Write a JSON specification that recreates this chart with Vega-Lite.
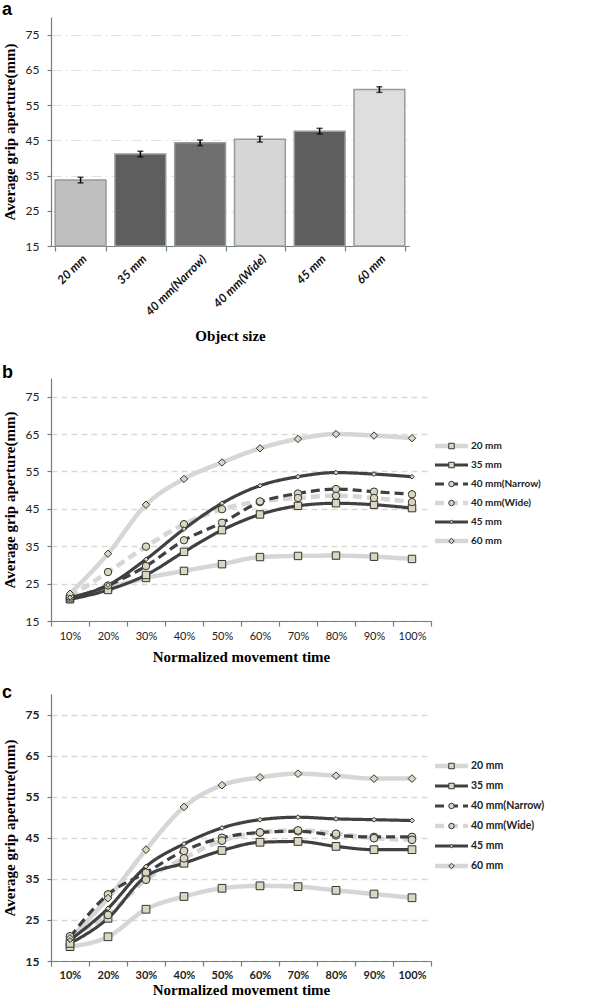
{
  "$schema": "https://vega.github.io/schema/vega-lite/v6.json",
  "background": "white",
  "padding": {"left": 2, "top": 1, "right": 0, "bottom": 0},
  "spacing": 20,
  "config": {
    "view": {"stroke": null},
    "title": {"font": "Liberation Sans", "fontSize": 18, "fontWeight": "bold", "anchor": "start", "frame": "bounds", "offset": -2, "color": "black"},
    "axis": {
      "labelFont": "Lato", "labelFontSize": 12, "labelColor": "#222",
      "titleFont": "Liberation Serif", "titleFontSize": 15, "titleFontWeight": "bold", "titleColor": "black",
      "domainColor": "#6f8080", "tickColor": "#6f8080", "domainWidth": 1.2, "tickWidth": 1.2
    }
  },
  "datasets": {
    "bars": [
      {"size": "20 mm", "value": 33.7, "err": 0.8},
      {"size": "35 mm", "value": 41.1, "err": 0.8},
      {"size": "40 mm(Narrow)", "value": 44.3, "err": 0.8},
      {"size": "40 mm(Wide)", "value": 45.3, "err": 0.8},
      {"size": "45 mm", "value": 47.6, "err": 0.8},
      {"size": "60 mm", "value": 59.4, "err": 0.8}
    ],
    "series": [
      {"s": "20 mm", "i": 1}, {"s": "35 mm", "i": 2}, {"s": "40 mm(Narrow)", "i": 3}, {"s": "40 mm(Wide)", "i": 4}, {"s": "45 mm", "i": 5}, {"s": "60 mm", "i": 6}
    ],
    "b": [
      {"s": "20 mm", "t": "10%", "v": 21.0}, {"s": "20 mm", "t": "20%", "v": 23.8}, {"s": "20 mm", "t": "30%", "v": 26.5}, {"s": "20 mm", "t": "40%", "v": 28.4}, {"s": "20 mm", "t": "50%", "v": 30.2}, {"s": "20 mm", "t": "60%", "v": 32.1}, {"s": "20 mm", "t": "70%", "v": 32.4}, {"s": "20 mm", "t": "80%", "v": 32.5}, {"s": "20 mm", "t": "90%", "v": 32.2}, {"s": "20 mm", "t": "100%", "v": 31.6},
      {"s": "35 mm", "t": "10%", "v": 20.8}, {"s": "35 mm", "t": "20%", "v": 23.3}, {"s": "35 mm", "t": "30%", "v": 27.3}, {"s": "35 mm", "t": "40%", "v": 33.5}, {"s": "35 mm", "t": "50%", "v": 39.3}, {"s": "35 mm", "t": "60%", "v": 43.5}, {"s": "35 mm", "t": "70%", "v": 45.8}, {"s": "35 mm", "t": "80%", "v": 46.5}, {"s": "35 mm", "t": "90%", "v": 46.1}, {"s": "35 mm", "t": "100%", "v": 45.2},
      {"s": "40 mm(Narrow)", "t": "10%", "v": 21.0}, {"s": "40 mm(Narrow)", "t": "20%", "v": 24.5}, {"s": "40 mm(Narrow)", "t": "30%", "v": 29.7}, {"s": "40 mm(Narrow)", "t": "40%", "v": 36.6}, {"s": "40 mm(Narrow)", "t": "50%", "v": 41.3}, {"s": "40 mm(Narrow)", "t": "60%", "v": 46.8}, {"s": "40 mm(Narrow)", "t": "70%", "v": 49.1}, {"s": "40 mm(Narrow)", "t": "80%", "v": 50.3}, {"s": "40 mm(Narrow)", "t": "90%", "v": 49.6}, {"s": "40 mm(Narrow)", "t": "100%", "v": 48.9},
      {"s": "40 mm(Wide)", "t": "10%", "v": 21.5}, {"s": "40 mm(Wide)", "t": "20%", "v": 28.1}, {"s": "40 mm(Wide)", "t": "30%", "v": 34.9}, {"s": "40 mm(Wide)", "t": "40%", "v": 40.9}, {"s": "40 mm(Wide)", "t": "50%", "v": 44.9}, {"s": "40 mm(Wide)", "t": "60%", "v": 47.0}, {"s": "40 mm(Wide)", "t": "70%", "v": 47.9}, {"s": "40 mm(Wide)", "t": "80%", "v": 48.5}, {"s": "40 mm(Wide)", "t": "90%", "v": 47.9}, {"s": "40 mm(Wide)", "t": "100%", "v": 46.8},
      {"s": "45 mm", "t": "10%", "v": 21.3}, {"s": "45 mm", "t": "20%", "v": 24.6}, {"s": "45 mm", "t": "30%", "v": 31.5}, {"s": "45 mm", "t": "40%", "v": 39.6}, {"s": "45 mm", "t": "50%", "v": 46.5}, {"s": "45 mm", "t": "60%", "v": 51.2}, {"s": "45 mm", "t": "70%", "v": 53.6}, {"s": "45 mm", "t": "80%", "v": 54.7}, {"s": "45 mm", "t": "90%", "v": 54.3}, {"s": "45 mm", "t": "100%", "v": 53.6},
      {"s": "60 mm", "t": "10%", "v": 22.3}, {"s": "60 mm", "t": "20%", "v": 33.0}, {"s": "60 mm", "t": "30%", "v": 46.1}, {"s": "60 mm", "t": "40%", "v": 53.0}, {"s": "60 mm", "t": "50%", "v": 57.4}, {"s": "60 mm", "t": "60%", "v": 61.2}, {"s": "60 mm", "t": "70%", "v": 63.7}, {"s": "60 mm", "t": "80%", "v": 65.0}, {"s": "60 mm", "t": "90%", "v": 64.6}, {"s": "60 mm", "t": "100%", "v": 63.9}
    ],
    "c": [
      {"s": "20 mm", "t": "10%", "v": 18.5}, {"s": "20 mm", "t": "20%", "v": 20.9}, {"s": "20 mm", "t": "30%", "v": 27.6}, {"s": "20 mm", "t": "40%", "v": 30.7}, {"s": "20 mm", "t": "50%", "v": 32.7}, {"s": "20 mm", "t": "60%", "v": 33.3}, {"s": "20 mm", "t": "70%", "v": 33.1}, {"s": "20 mm", "t": "80%", "v": 32.2}, {"s": "20 mm", "t": "90%", "v": 31.3}, {"s": "20 mm", "t": "100%", "v": 30.4},
      {"s": "35 mm", "t": "10%", "v": 19.3}, {"s": "35 mm", "t": "20%", "v": 25.4}, {"s": "35 mm", "t": "30%", "v": 35.6}, {"s": "35 mm", "t": "40%", "v": 38.8}, {"s": "35 mm", "t": "50%", "v": 41.9}, {"s": "35 mm", "t": "60%", "v": 43.9}, {"s": "35 mm", "t": "70%", "v": 44.1}, {"s": "35 mm", "t": "80%", "v": 42.9}, {"s": "35 mm", "t": "90%", "v": 42.1}, {"s": "35 mm", "t": "100%", "v": 42.1},
      {"s": "40 mm(Narrow)", "t": "10%", "v": 20.8}, {"s": "40 mm(Narrow)", "t": "20%", "v": 31.2}, {"s": "40 mm(Narrow)", "t": "30%", "v": 36.5}, {"s": "40 mm(Narrow)", "t": "40%", "v": 41.8}, {"s": "40 mm(Narrow)", "t": "50%", "v": 45.0}, {"s": "40 mm(Narrow)", "t": "60%", "v": 46.3}, {"s": "40 mm(Narrow)", "t": "70%", "v": 46.6}, {"s": "40 mm(Narrow)", "t": "80%", "v": 45.6}, {"s": "40 mm(Narrow)", "t": "90%", "v": 45.2}, {"s": "40 mm(Narrow)", "t": "100%", "v": 45.2},
      {"s": "40 mm(Wide)", "t": "10%", "v": 21.0}, {"s": "40 mm(Wide)", "t": "20%", "v": 26.2}, {"s": "40 mm(Wide)", "t": "30%", "v": 34.8}, {"s": "40 mm(Wide)", "t": "40%", "v": 40.0}, {"s": "40 mm(Wide)", "t": "50%", "v": 44.3}, {"s": "40 mm(Wide)", "t": "60%", "v": 46.3}, {"s": "40 mm(Wide)", "t": "70%", "v": 46.8}, {"s": "40 mm(Wide)", "t": "80%", "v": 46.0}, {"s": "40 mm(Wide)", "t": "90%", "v": 44.9}, {"s": "40 mm(Wide)", "t": "100%", "v": 44.5},
      {"s": "45 mm", "t": "10%", "v": 20.1}, {"s": "45 mm", "t": "20%", "v": 27.8}, {"s": "45 mm", "t": "30%", "v": 38.0}, {"s": "45 mm", "t": "40%", "v": 43.5}, {"s": "45 mm", "t": "50%", "v": 47.4}, {"s": "45 mm", "t": "60%", "v": 49.4}, {"s": "45 mm", "t": "70%", "v": 50.0}, {"s": "45 mm", "t": "80%", "v": 49.6}, {"s": "45 mm", "t": "90%", "v": 49.4}, {"s": "45 mm", "t": "100%", "v": 49.2},
      {"s": "60 mm", "t": "10%", "v": 20.5}, {"s": "60 mm", "t": "20%", "v": 30.3}, {"s": "60 mm", "t": "30%", "v": 42.1}, {"s": "60 mm", "t": "40%", "v": 52.5}, {"s": "60 mm", "t": "50%", "v": 57.8}, {"s": "60 mm", "t": "60%", "v": 59.7}, {"s": "60 mm", "t": "70%", "v": 60.6}, {"s": "60 mm", "t": "80%", "v": 60.1}, {"s": "60 mm", "t": "90%", "v": 59.4}, {"s": "60 mm", "t": "100%", "v": 59.4}
    ]
  },
  "vconcat": [
    {
      "title": {"text": "a"},
      "width": 358,
      "height": 229,
      "data": {"name": "bars"},
      "encoding": {
        "x": {"field": "size", "type": "nominal", "sort": null, "title": "Object size",
          "scale": {"paddingInner": 0.15, "paddingOuter": 0.07},
          "axis": {"tickBand": "extent", "tickSize": 5, "labelAngle": -45, "labelOverlap": false, "labelFontStyle": "italic", "labelFontWeight": "bold", "labelColor": "#111", "labelPadding": 2, "titlePadding": 11}},
        "y": {"field": "value", "type": "quantitative", "title": "Average grip aperture(mm)",
          "scale": {"domain": [15, 80], "nice": false, "zero": false},
          "axis": {"title": "Average grip aperture(mm)", "values": [15, 25, 35, 45, 55, 65, 75], "tickSize": 4, "labelPadding": 8, "titlePadding": 8, "gridColor": "#e2e2e2", "gridDash": [10, 4, 2, 4], "gridWidth": 1}}
      },
      "layer": [
        {
          "mark": {"type": "bar", "stroke": "#999999", "strokeWidth": 1.5},
          "encoding": {
            "y2": {"datum": 15},
            "fill": {"field": "size", "type": "nominal", "legend": null,
              "scale": {"domain": ["20 mm", "35 mm", "40 mm(Narrow)", "40 mm(Wide)", "45 mm", "60 mm"], "range": ["#bfbfbf", "#5e5e5e", "#6e6e6e", "#d6d6d6", "#5e5e5e", "#dedede"]}}
          }
        },
        {
          "mark": {"type": "errorbar", "ticks": {"size": 6, "color": "black", "thickness": 1.5}, "rule": {"strokeWidth": 1.5, "color": "black"}},
          "encoding": {
            "yError": {"field": "err"}
          }
        }
      ]
    },
    {
      "title": {"text": "b", "offset": -4},
      "spacing": 0,
      "hconcat": [
        {
          "width": 380,
          "height": 243,
          "data": {"name": "b"},
          "encoding": {
            "x": {"field": "t", "type": "nominal", "sort": null, "title": "Normalized movement time",
              "scale": {"type": "band", "paddingInner": 0, "paddingOuter": 0},
              "axis": {"tickBand": "extent", "tickSize": 5, "labelAngle": 0, "labelFontSize": 11, "labelPadding": 4, "titlePadding": 8}},
            "y": {"field": "v", "type": "quantitative", "title": "Average grip aperture(mm)",
              "scale": {"domain": [15, 80], "nice": false, "zero": false},
              "axis": {"values": [15, 25, 35, 45, 55, 65, 75], "tickSize": 4, "labelPadding": 8, "titlePadding": 8, "gridColor": "#d9d9d2", "gridDash": [6, 4], "gridWidth": 1.3}}
          },
          "layer": [
            {
              "transform": [{"filter": {"field": "s", "oneOf": ["20 mm", "40 mm(Wide)", "60 mm"]}}],
              "mark": {"type": "line", "interpolate": "monotone", "color": "#d6d6d6", "strokeWidth": 4.5},
              "encoding": {"strokeDash": {"field": "s", "type": "nominal", "legend": null,
                "scale": {"domain": ["20 mm", "35 mm", "40 mm(Narrow)", "40 mm(Wide)", "45 mm", "60 mm"], "range": [[1, 0], [1, 0], [9, 5], [9, 5], [1, 0], [1, 0]]}}}
            },
            {
              "transform": [{"filter": {"field": "s", "oneOf": ["35 mm", "40 mm(Narrow)", "45 mm"]}}],
              "mark": {"type": "line", "interpolate": "monotone", "color": "#404040", "strokeWidth": 3.2},
              "encoding": {"strokeDash": {"field": "s", "type": "nominal", "legend": null,
                "scale": {"domain": ["20 mm", "35 mm", "40 mm(Narrow)", "40 mm(Wide)", "45 mm", "60 mm"], "range": [[1, 0], [1, 0], [9, 5], [9, 5], [1, 0], [1, 0]]}}}
            },
            {
              "transform": [{"filter": {"field": "s", "oneOf": ["20 mm", "35 mm", "40 mm(Narrow)", "40 mm(Wide)", "60 mm"]}}],
              "mark": {"type": "point", "filled": true, "fill": "#dad6c0", "stroke": "#333333", "strokeWidth": 1, "size": 55, "opacity": 1},
              "encoding": {"shape": {"field": "s", "type": "nominal", "legend": null,
                "scale": {"domain": ["20 mm", "35 mm", "40 mm(Narrow)", "40 mm(Wide)", "45 mm", "60 mm"], "range": ["square", "square", "circle", "circle", "diamond", "diamond"]}}}
            },
            {
              "transform": [{"filter": {"field": "s", "equal": "45 mm"}}],
              "mark": {"type": "point", "shape": "diamond", "filled": true, "fill": "#dad6c0", "stroke": "#333333", "strokeWidth": 1, "size": 22, "opacity": 1}
            }
          ]
        },
        {
          "width": 110,
          "height": 243,
          "data": {"name": "series"},
          "encoding": {
            "y": {"field": "i", "type": "quantitative", "axis": null,
              "scale": {"domain": [-2.58, 10.21], "nice": false, "zero": false, "reverse": true}}
          },
          "layer": [
            {
              "transform": [{"filter": {"field": "s", "oneOf": ["20 mm", "40 mm(Wide)", "60 mm"]}}],
              "mark": {"type": "rule", "color": "#d6d6d6", "strokeWidth": 4.5},
              "encoding": {
                "x": {"datum": 0, "type": "quantitative", "axis": null, "scale": {"domain": [0, 110], "nice": false, "zero": false}},
                "x2": {"datum": 33},
                "strokeDash": {"field": "s", "type": "nominal", "legend": null,
                  "scale": {"domain": ["20 mm", "35 mm", "40 mm(Narrow)", "40 mm(Wide)", "45 mm", "60 mm"], "range": [[1, 0], [1, 0], [9, 5], [9, 5], [1, 0], [1, 0]]}}
              }
            },
            {
              "transform": [{"filter": {"field": "s", "oneOf": ["35 mm", "40 mm(Narrow)", "45 mm"]}}],
              "mark": {"type": "rule", "color": "#404040", "strokeWidth": 3.2},
              "encoding": {
                "x": {"datum": 0, "type": "quantitative", "axis": null, "scale": {"domain": [0, 110], "nice": false, "zero": false}},
                "x2": {"datum": 33},
                "strokeDash": {"field": "s", "type": "nominal", "legend": null,
                  "scale": {"domain": ["20 mm", "35 mm", "40 mm(Narrow)", "40 mm(Wide)", "45 mm", "60 mm"], "range": [[1, 0], [1, 0], [9, 5], [9, 5], [1, 0], [1, 0]]}}
              }
            },
            {
              "transform": [{"filter": {"field": "s", "oneOf": ["20 mm", "35 mm", "40 mm(Narrow)", "40 mm(Wide)", "60 mm"]}}],
              "mark": {"type": "point", "filled": true, "fill": "#dad6c0", "stroke": "#333333", "strokeWidth": 1, "size": 30, "opacity": 1},
              "encoding": {
                "x": {"datum": 16.5, "type": "quantitative", "axis": null, "scale": {"domain": [0, 110], "nice": false, "zero": false}},
                "shape": {"field": "s", "type": "nominal", "legend": null,
                  "scale": {"domain": ["20 mm", "35 mm", "40 mm(Narrow)", "40 mm(Wide)", "45 mm", "60 mm"], "range": ["square", "square", "circle", "circle", "diamond", "diamond"]}}
              }
            },
            {
              "transform": [{"filter": {"field": "s", "equal": "45 mm"}}],
              "mark": {"type": "point", "shape": "diamond", "filled": true, "fill": "#dad6c0", "stroke": "#333333", "strokeWidth": 1, "size": 14, "opacity": 1},
              "encoding": {
                "x": {"datum": 16.5, "type": "quantitative", "axis": null, "scale": {"domain": [0, 110], "nice": false, "zero": false}}
              }
            },
            {
              "mark": {"type": "text", "align": "left", "baseline": "middle", "font": "Lato", "fontSize": 10, "fontWeight": "bold", "color": "#222"},
              "encoding": {
                "x": {"datum": 36, "type": "quantitative", "axis": null, "scale": {"domain": [0, 110], "nice": false, "zero": false}},
                "text": {"field": "s"}
              }
            }
          ]
        }
      ]
    },
    {
      "title": {"text": "c", "offset": -8},
      "spacing": 0,
      "hconcat": [
        {
          "width": 380,
          "height": 267,
          "data": {"name": "c"},
          "encoding": {
            "x": {"field": "t", "type": "nominal", "sort": null, "title": "Normalized movement time",
              "scale": {"type": "band", "paddingInner": 0, "paddingOuter": 0},
              "axis": {"tickBand": "extent", "tickSize": 5, "labelAngle": 0, "labelFontSize": 11, "labelFontWeight": "bold", "labelPadding": 3, "titlePadding": 2}},
            "y": {"field": "v", "type": "quantitative", "title": "Average grip aperture(mm)",
              "scale": {"domain": [15, 80], "nice": false, "zero": false},
              "axis": {"values": [15, 25, 35, 45, 55, 65, 75], "tickSize": 4, "labelPadding": 8, "labelFontWeight": "bold", "titlePadding": 8, "gridColor": "#d9d9d2", "gridDash": [6, 4], "gridWidth": 1.3}}
          },
          "layer": [
            {
              "transform": [{"filter": {"field": "s", "oneOf": ["20 mm", "40 mm(Wide)", "60 mm"]}}],
              "mark": {"type": "line", "interpolate": "monotone", "color": "#d6d6d6", "strokeWidth": 4.5},
              "encoding": {"strokeDash": {"field": "s", "type": "nominal", "legend": null,
                "scale": {"domain": ["20 mm", "35 mm", "40 mm(Narrow)", "40 mm(Wide)", "45 mm", "60 mm"], "range": [[1, 0], [1, 0], [9, 5], [9, 5], [1, 0], [1, 0]]}}}
            },
            {
              "transform": [{"filter": {"field": "s", "oneOf": ["35 mm", "40 mm(Narrow)", "45 mm"]}}],
              "mark": {"type": "line", "interpolate": "monotone", "color": "#404040", "strokeWidth": 3.2},
              "encoding": {"strokeDash": {"field": "s", "type": "nominal", "legend": null,
                "scale": {"domain": ["20 mm", "35 mm", "40 mm(Narrow)", "40 mm(Wide)", "45 mm", "60 mm"], "range": [[1, 0], [1, 0], [9, 5], [9, 5], [1, 0], [1, 0]]}}}
            },
            {
              "transform": [{"filter": {"field": "s", "oneOf": ["20 mm", "35 mm", "40 mm(Narrow)", "40 mm(Wide)", "60 mm"]}}],
              "mark": {"type": "point", "filled": true, "fill": "#dad6c0", "stroke": "#333333", "strokeWidth": 1, "size": 60, "opacity": 1},
              "encoding": {"shape": {"field": "s", "type": "nominal", "legend": null,
                "scale": {"domain": ["20 mm", "35 mm", "40 mm(Narrow)", "40 mm(Wide)", "45 mm", "60 mm"], "range": ["square", "square", "circle", "circle", "diamond", "diamond"]}}}
            },
            {
              "transform": [{"filter": {"field": "s", "equal": "45 mm"}}],
              "mark": {"type": "point", "shape": "diamond", "filled": true, "fill": "#dad6c0", "stroke": "#333333", "strokeWidth": 1, "size": 24, "opacity": 1}
            }
          ]
        },
        {
          "width": 110,
          "height": 267,
          "data": {"name": "series"},
          "encoding": {
            "y": {"field": "i", "type": "quantitative", "axis": null,
              "scale": {"domain": [-2.6, 10.75], "nice": false, "zero": false, "reverse": true}}
          },
          "layer": [
            {
              "transform": [{"filter": {"field": "s", "oneOf": ["20 mm", "40 mm(Wide)", "60 mm"]}}],
              "mark": {"type": "rule", "color": "#d6d6d6", "strokeWidth": 4.5},
              "encoding": {
                "x": {"datum": 0, "type": "quantitative", "axis": null, "scale": {"domain": [0, 110], "nice": false, "zero": false}},
                "x2": {"datum": 33},
                "strokeDash": {"field": "s", "type": "nominal", "legend": null,
                  "scale": {"domain": ["20 mm", "35 mm", "40 mm(Narrow)", "40 mm(Wide)", "45 mm", "60 mm"], "range": [[1, 0], [1, 0], [9, 5], [9, 5], [1, 0], [1, 0]]}}
              }
            },
            {
              "transform": [{"filter": {"field": "s", "oneOf": ["35 mm", "40 mm(Narrow)", "45 mm"]}}],
              "mark": {"type": "rule", "color": "#404040", "strokeWidth": 3.2},
              "encoding": {
                "x": {"datum": 0, "type": "quantitative", "axis": null, "scale": {"domain": [0, 110], "nice": false, "zero": false}},
                "x2": {"datum": 33},
                "strokeDash": {"field": "s", "type": "nominal", "legend": null,
                  "scale": {"domain": ["20 mm", "35 mm", "40 mm(Narrow)", "40 mm(Wide)", "45 mm", "60 mm"], "range": [[1, 0], [1, 0], [9, 5], [9, 5], [1, 0], [1, 0]]}}
              }
            },
            {
              "transform": [{"filter": {"field": "s", "oneOf": ["20 mm", "35 mm", "40 mm(Narrow)", "40 mm(Wide)", "60 mm"]}}],
              "mark": {"type": "point", "filled": true, "fill": "#dad6c0", "stroke": "#333333", "strokeWidth": 1, "size": 30, "opacity": 1},
              "encoding": {
                "x": {"datum": 16.5, "type": "quantitative", "axis": null, "scale": {"domain": [0, 110], "nice": false, "zero": false}},
                "shape": {"field": "s", "type": "nominal", "legend": null,
                  "scale": {"domain": ["20 mm", "35 mm", "40 mm(Narrow)", "40 mm(Wide)", "45 mm", "60 mm"], "range": ["square", "square", "circle", "circle", "diamond", "diamond"]}}
              }
            },
            {
              "transform": [{"filter": {"field": "s", "equal": "45 mm"}}],
              "mark": {"type": "point", "shape": "diamond", "filled": true, "fill": "#dad6c0", "stroke": "#333333", "strokeWidth": 1, "size": 14, "opacity": 1},
              "encoding": {
                "x": {"datum": 16.5, "type": "quantitative", "axis": null, "scale": {"domain": [0, 110], "nice": false, "zero": false}}
              }
            },
            {
              "mark": {"type": "text", "align": "left", "baseline": "middle", "font": "Lato", "fontSize": 10.5, "fontWeight": "bold", "color": "#222"},
              "encoding": {
                "x": {"datum": 36, "type": "quantitative", "axis": null, "scale": {"domain": [0, 110], "nice": false, "zero": false}},
                "text": {"field": "s"}
              }
            }
          ]
        }
      ]
    }
  ]
}
